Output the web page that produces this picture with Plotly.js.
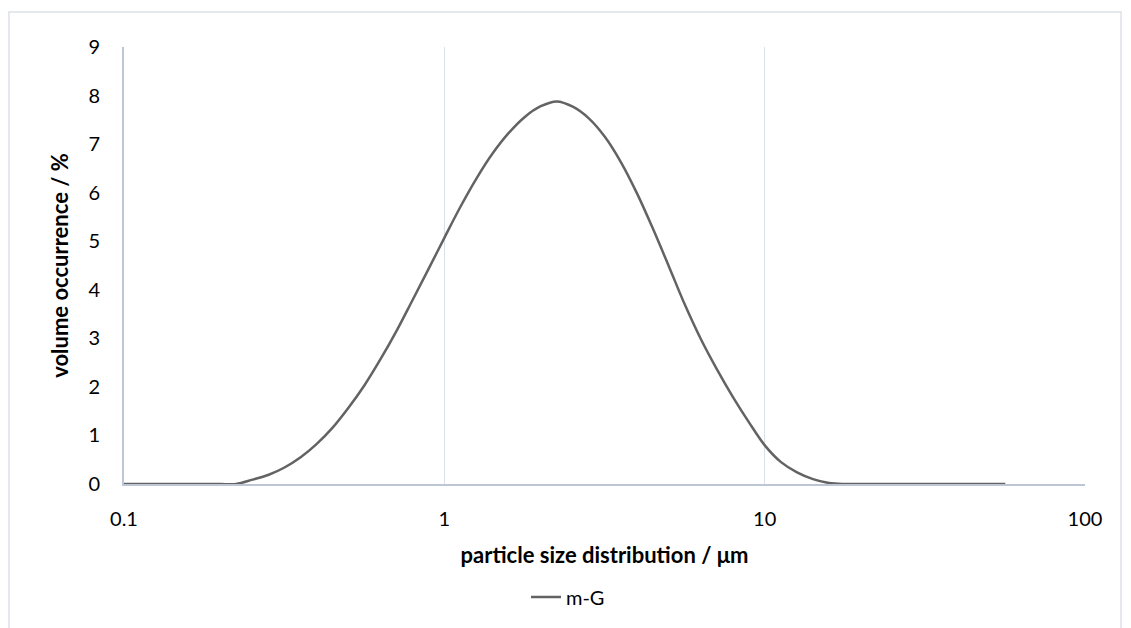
<!DOCTYPE html>
<html>
<head>
<meta charset="utf-8">
<script src="https://cdn.plot.ly/plotly-3.0.1.min.js"></script>
<style>
html,body{margin:0;padding:0;background:#fff;}
#chart{width:1131px;height:628px;}
</style>
</head>
<body>
<div id="chart"></div>
<script>
// particle size bins (µm)
var sizes = [0.100,0.112,0.126,0.142,0.159,0.178,0.200,0.224,0.252,0.283,0.317,0.356,0.399,0.448,0.502,0.564,0.632,0.710,0.796,0.893,
  1.002,1.125,1.262,1.416,1.589,1.783,2.000,2.244,2.518,2.825,3.170,3.557,3.991,4.477,5.024,5.637,6.325,7.096,7.962,8.934,
  10.024,11.247,12.619,14.159,15.887,17.825,20.000,22.440,25.179,28.251,31.698,35.566,39.905,44.774,50.238,56.368];
// volume occurrence (%) for series m-G
var mG = [0,0,0,0,0,0,0,0,0.09,0.19,0.34,0.55,0.82,1.16,1.57,2.04,2.57,3.16,3.79,4.43,
  5.08,5.72,6.30,6.81,7.23,7.56,7.78,7.88,7.77,7.53,7.15,6.63,5.99,5.26,4.48,3.69,2.98,2.36,1.79,1.27,
  0.79,0.45,0.24,0.10,0.02,0,0,0,0,0,0,0,0,0,0,0];
var seriesName = 'm-G';
var xTickVals = [0.1,1,10,100];
var xTickText = ['0.1','1','10','100'];
var xTitle = 'particle size distribution / μm';
var yTitle = 'volume occurrence / %';

var fontFam = 'Lato, "Open Sans", sans-serif';
var trace = {
  x: sizes, y: mG, name: seriesName, type: 'scatter', mode: 'lines',
  line: {color: '#636363', width: 2.5, shape: 'spline', smoothing: 1},
  showlegend: true
};
var layout = {
  width: 1131, height: 628,
  margin: {l:124, r:46, t:47, b:144},
  paper_bgcolor: '#fff', plot_bgcolor: '#fff',
  font: {family: fontFam, size: 20, color: '#000'},
  xaxis: {
    type: 'log', range: [-1, 2], tickvals: xTickVals, ticktext: xTickText,
    showgrid: true, gridcolor: '#D9DEE7', gridwidth: 1.5,
    showline: true, linecolor: '#BCC6D6', linewidth: 2,
    zeroline: false, ticks: '', ticklabelstandoff: 16,
    tickfont: {family: fontFam, size: 20, color: '#000'},
    title: {text: xTitle, font: {family: fontFam, size: 22, color: '#000', weight: 'bold'}, standoff: 19},
    automargin: false, fixedrange: true
  },
  yaxis: {
    range: [0, 9], dtick: 1, tick0: 0,
    showgrid: false, showline: true, linecolor: '#BCC6D6', linewidth: 2,
    zeroline: false, ticks: '', ticklabelstandoff: 18,
    tickfont: {family: fontFam, size: 20, color: '#000'},
    title: {text: yTitle, font: {family: fontFam, size: 22, color: '#000', weight: 'bold'}, standoff: 14},
    automargin: false, fixedrange: true
  },
  legend: {orientation: 'h', x: 0.462, xanchor: 'center', y: -0.2586, yanchor: 'middle',
    font: {family: fontFam, size: 20, color: '#000'}, bgcolor: 'rgba(0,0,0,0)'},
  shapes: [{type: 'rect', xref: 'paper', yref: 'paper', x0: -0.1197, x1: 1.0375, y0: -0.36, y1: 1.080,
    line: {color: '#DDE1E6', width: 1.5}, fillcolor: 'rgba(0,0,0,0)', layer: 'below'}]
};
Plotly.newPlot('chart', [trace], layout, {displayModeBar: false, staticPlot: true});
</script>
</body>
</html>
